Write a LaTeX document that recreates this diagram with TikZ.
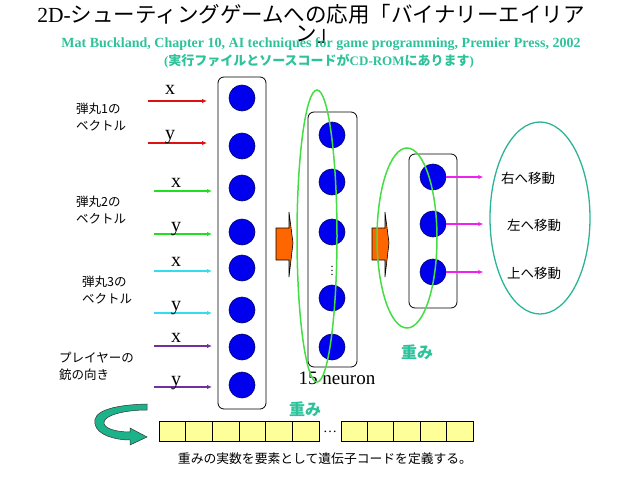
\documentclass[tikz,border=0pt]{standalone}
\usepackage{fontspec}
\setmainfont{Liberation Serif}
\newfontfamily\jp{Noto Sans CJK JP}
\usetikzlibrary{arrows.meta}
\definecolor{teal}{HTML}{2EC29A}
\definecolor{ringgreen}{HTML}{44DD44}
\definecolor{ringteal}{HTML}{2DB496}
\definecolor{neuronblue}{HTML}{0000EE}
\definecolor{neuronedge}{HTML}{000066}
\definecolor{vecred}{HTML}{DD1111}
\definecolor{vecgreen}{HTML}{22DD22}
\definecolor{veccyan}{HTML}{33DDEE}
\definecolor{vecpurple}{HTML}{7030A0}
\definecolor{outmagenta}{HTML}{EE22EE}
\definecolor{blockorange}{HTML}{FF6600}
\definecolor{geneyellow}{HTML}{FFFF99}
\definecolor{loopteal}{HTML}{1DB38A}
\tikzset{>={Latex[length=5pt,width=4.5pt]},
  every node/.style={inner sep=0pt},
  neuron/.style={circle,fill=neuronblue,draw=neuronedge,line width=.6pt,minimum size=26pt},
  layerbox/.style={draw=black,line width=.8pt,rounded corners=6pt},
  vec/.style={->,line width=1.3pt},
  xylabel/.style={font=\fontsize{20}{20}\selectfont},
  jplabel/.style={font=\jp\fontsize{12.5}{17}\selectfont,align=left,anchor=west},
  outlabel/.style={font=\jp\fontsize{13.5}{16}\selectfont},
  weightlabel/.style={font=\jp\bfseries\fontsize{16}{18}\selectfont,text=teal},
  ring/.style={draw=ringgreen,line width=1.5pt},
  feed/.style={fill=blockorange,draw=black,line width=.6pt},
  genecell/.style={fill=geneyellow,draw=black,line width=.8pt}}
\begin{document}
\begin{tikzpicture}[x=1pt,y=-1pt]
\useasboundingbox (0,0) rectangle (638,479);
% title
\node (title) at (311,14) {\fontsize{21.5}{26}\selectfont 2D-{\jp シューティングゲームへの応用「バイナリーエイリア}};
\node (title2) at (317,35) {\fontsize{21.5}{26}\selectfont\jp ン」};
\node[text=teal] (ref) at (321,44) {\fontsize{14}{16}\selectfont\bfseries Mat Buckland, Chapter 10, AI techniques for game programming, Premier Press, 2002};
\node[text=teal] (cdrom) at (319,61) {\fontsize{13}{15}\selectfont\bfseries (\jp 実行ファイルとソースコードが\rmfamily CD-ROM\jp にあります\rmfamily )};
% layer boxes
\draw[layerbox] (218,77) rectangle (266,409);
\draw[layerbox] (308,112) rectangle (357,367);
\draw[layerbox] (409,154) rectangle (457,308);
% neurons
\foreach \y [count=\i] in {98,146,188,232,268,310,347,385}
  \node[neuron] (in\i) at (242,\y) {};
\foreach \y [count=\i] in {135,182,232,298,347}
  \node[neuron] (h\i) at (332,\y) {};
\node (hdots) at (332,268) {\fontsize{12}{12}\selectfont$\vdots$};
\foreach \y [count=\i] in {177,224,272}
  \node[neuron] (o\i) at (433,\y) {};
% input vectors
\foreach \y/\c/\a/\b/\t/\ty [count=\i] in {101/vecred/148/207/x/90,143/vecred/148/207/y/137,
    191/vecgreen/154/212/x/183,234/vecgreen/154/212/y/229,
    271/veccyan/154/212/x/262,313/veccyan/154/212/y/308,
    346/vecpurple/154/212/x/338,387/vecpurple/154/212/y/383} {
  \coordinate (v\i s) at (\a,\y);
  \coordinate (v\i e) at (\b,\y);
  \draw[vec,\c] (v\i s) -- (v\i e);
  \node[xylabel] (v\i l) at ({\a+22},\ty) {\t};
}
\node[jplabel] (bullet1) at (76,117) {弾丸1の\\ベクトル};
\node[jplabel] (bullet2) at (76,210) {弾丸2の\\ベクトル};
\node[jplabel] (bullet3) at (82,290) {弾丸3の\\ベクトル};
\node[jplabel] (gun) at (59,366) {プレイヤーの\\銃の向き};
% feed-forward blocks
\draw[feed] (276,228) -- (289,228) -- (289,212) -- (293,243) -- (289,277) -- (289,260) -- (276,260) -- cycle;
\draw[feed] (372,228) -- (385,228) -- (385,212) -- (389,243) -- (385,277) -- (385,260) -- (372,260) -- cycle;
\node (neurons) at (337,378) {\fontsize{19}{20}\selectfont 15 neuron};
% weight rings
\draw[ring] (317,236) ellipse [x radius=20,y radius=146];
\draw[ring] (407,238) ellipse [x radius=30,y radius=90];
\node[weightlabel] (w1) at (417,352) {重み};
% outputs
\foreach \i in {1,2,3} {
  \coordinate (m\i) at ([xshift=37pt]o\i.east);
  \draw[vec,outmagenta] (o\i.east) -- (m\i);
}
\draw[ringteal,line width=1.3pt] (540,218) ellipse [x radius=50,y radius=96];
\node[outlabel] (right) at (528,178) {右へ移動};
\node[outlabel] (left) at (534,225) {左へ移動};
\node[outlabel] (up) at (534,273) {上へ移動};
% gene code
\node[weightlabel] (w2) at (305,409) {重み};
\foreach \i in {0,...,5}
  \draw[genecell] ({159+\i*26.67},421) rectangle ++(26.67,20);
\foreach \i in {0,...,4}
  \draw[genecell] ({341+\i*26.4},421) rectangle ++(26.4,20);
\node (gdots) at (330,432) {\fontsize{14}{14}\selectfont\dots};
\draw[fill=loopteal,draw=black!80,line width=.5pt] (147,404) .. controls (110,405) and (92,412) .. (95,424)
  .. controls (97,435) and (115,440) .. (130,440) -- (130,445) -- (147,437) -- (130,428) -- (130,432)
  .. controls (115,432) and (103,428) .. (104,422) .. controls (105,415) and (125,410) .. (147,410) -- cycle;
\node (caption) at (325,459) {\jp\fontsize{12.8}{15}\selectfont 重みの実数を要素として遺伝子コードを定義する。};
\end{tikzpicture}
\end{document}
